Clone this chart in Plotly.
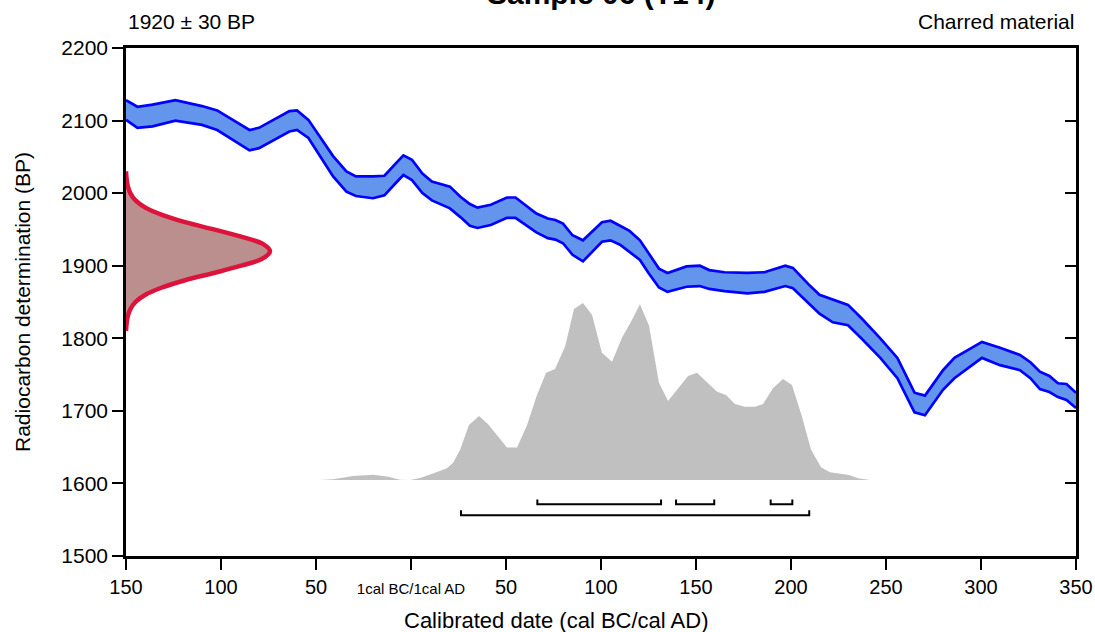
import plotly.graph_objects as go

# ---------------- data ----------------
# calibration curve (year: negative = BC, 0 = 1 BC/1 AD boundary), upper/lower BP edges
cal_year = [-150, -144, -136, -124, -110, -102, -85, -80, -64, -60, -54, -41, -34, -29, -20, -14,
            -8, -4, 0.5, 6, 11, 20.5, 26, 31, 35, 42, 50.5, 55, 66, 72, 76, 80, 85, 90.5,
            100.5, 105, 110, 115, 120.5, 125, 130.5, 135, 145, 152, 157, 165, 177, 186, 197, 201,
            209, 215, 222, 230, 237, 247, 256, 265, 270.5, 280, 286, 300.5, 310, 320.5, 326,
            331, 336, 340.5, 345, 350]
cal_upper = [2128, 2119, 2122, 2128, 2120, 2114, 2087, 2090, 2113, 2114, 2101, 2051, 2030, 2023, 2023, 2024,
             2041, 2052, 2046, 2027, 2016, 2009, 1995, 1985, 1980, 1984, 1994, 1994, 1972, 1965, 1963, 1958, 1942, 1935,
             1960, 1962, 1955, 1948, 1935, 1917, 1896, 1890, 1899, 1900, 1894, 1891, 1890, 1891, 1900, 1897,
             1875, 1860, 1853, 1846, 1828, 1800, 1773, 1725, 1721, 1756, 1773, 1795, 1787, 1777, 1767,
             1754, 1748, 1738, 1737, 1725]
cal_lower = [2101, 2090, 2092, 2100, 2094, 2087, 2059, 2062, 2085, 2087, 2076, 2023, 2002, 1996, 1993, 1997,
             2014, 2025, 2018, 2000, 1990, 1979, 1967, 1955, 1952, 1956, 1966, 1966, 1946, 1938, 1936, 1931, 1915, 1906,
             1933, 1935, 1929, 1919, 1908, 1890, 1870, 1864, 1871, 1872, 1868, 1865, 1862, 1864, 1872, 1869,
             1849, 1834, 1822, 1818, 1800, 1773, 1745, 1698, 1694, 1729, 1745, 1773, 1763, 1756, 1745,
             1730, 1726, 1719, 1715, 1704]

# radiocarbon determination 1920 +/- 30 BP (relative probability)
c14_bp = [2030, 2020, 2010, 2000, 1990, 1980, 1970, 1960, 1950, 1940, 1930, 1920,
          1910, 1900, 1890, 1880, 1870, 1860, 1850, 1840, 1830, 1820, 1810]
c14_prob = [0.0, 0.004, 0.012, 0.03, 0.066, 0.135, 0.25, 0.41, 0.61, 0.80, 0.95, 1.0,
            0.95, 0.80, 0.61, 0.41, 0.25, 0.135, 0.066, 0.03, 0.012, 0.004, 0.0]

# calibrated date distribution (relative probability)
post_year = [-48, -41, -30.5, -20, -12.6, -5.8, -0.5, 4.7, 11.6, 18.9, 22.1, 25.8, 30.5, 35.8, 40.5,
             50.5, 55.8, 61.1, 66.3, 71.1, 75.8, 81.1, 85.8, 90.5, 95.3, 100.5, 105.8, 111.1, 115.8,
             120.5, 125.3, 130.5, 135.3, 140.5, 145.8, 150.5, 155.8, 161.1, 165.8, 170.5, 175.8,
             181.1, 185.3, 190.5, 195.8, 200.5, 205.8, 210.5, 215.8, 220.5, 230.5, 235.3, 241.6, 250.5]
post_prob = [0.0, 0.004, 0.022, 0.03, 0.019, 0.002, 0.0, 0.011, 0.037, 0.066, 0.096, 0.169, 0.309, 0.36, 0.315,
             0.182, 0.182, 0.309, 0.478, 0.603, 0.624, 0.75, 0.96, 0.994, 0.927, 0.715, 0.664, 0.801, 0.889,
             0.987, 0.867, 0.547, 0.444, 0.515, 0.584, 0.603, 0.547, 0.496, 0.478, 0.427, 0.412,
             0.412, 0.427, 0.515, 0.567, 0.534, 0.356, 0.172, 0.071, 0.043, 0.028, 0.010, 0.0, 0.0]

# highest posterior density ranges
hpd68_start = [66.5, 139.5, 189.3]
hpd68_end = [131.6, 159.6, 200.7]
hpd95_start = [26.3]
hpd95_end = [209.6]

x_tickvals = [-150, -100, -50, 0, 50, 100, 150, 200, 250, 300, 350]
x_ticktext = ['150', '100', '50', '<span style="font-size:15px">1cal BC/1cal AD</span>',
              '50', '100', '150', '200', '250', '300', '350']
y_tickvals = [1500, 1600, 1700, 1800, 1900, 2000, 2100, 2200]

title_text = 'Sample 06 (T14)'
det_text = '1920 ± 30 BP'
material_text = 'Charred material'

# ---------------- style ----------------
FONT = 'Arial, Liberation Sans, sans-serif'
row68 = (1571.2, 1578.0)
row95 = (1556.1, 1563.2)

fig = go.Figure()

# calibration band
fig.add_trace(go.Scatter(x=cal_year, y=cal_lower, mode='lines',
                         line=dict(color='#0000FF', width=2.7), showlegend=False, hoverinfo='skip'))
fig.add_trace(go.Scatter(x=cal_year, y=cal_upper, mode='lines', fill='tonexty',
                         fillcolor='#6495ED', line=dict(color='#0000FF', width=2.7),
                         showlegend=False, hoverinfo='skip'))

# radiocarbon determination curve
fig.add_trace(go.Scatter(x=c14_prob, y=c14_bp, xaxis='x2', yaxis='y', mode='lines',
                         fill='tozerox', fillcolor='#BC8F8F',
                         line=dict(color='#DC143C', width=4.5, shape='spline'),
                         showlegend=False, hoverinfo='skip'))

# calibrated distribution
fig.add_trace(go.Scatter(x=post_year, y=post_prob, yaxis='y2', mode='lines',
                         fill='tozeroy', fillcolor='#C0C0C0',
                         line=dict(color='rgba(0,0,0,0)', width=0),
                         showlegend=False, hoverinfo='skip'))

# range brackets
def add_brackets(starts, ends, row):
    for s, e in zip(starts, ends):
        fig.add_trace(go.Scatter(x=[s, s, e, e], y=[row[1], row[0], row[0], row[1]],
                                 mode='lines', line=dict(color='black', width=2),
                                 showlegend=False, hoverinfo='skip'))

add_brackets(hpd68_start, hpd68_end, row68)
add_brackets(hpd95_start, hpd95_end, row95)

# helper trace so the right-hand axis is drawn
fig.add_trace(go.Scatter(x=[None], y=[None], yaxis='y3', showlegend=False, hoverinfo='skip'))

fig.update_layout(
    width=1095, height=632,
    margin=dict(l=126, r=19, t=48, b=76),
    plot_bgcolor='white', paper_bgcolor='white',
    font=dict(family=FONT, size=20, color='black'),
    xaxis=dict(range=[-150, 350], tickvals=x_tickvals, ticktext=x_ticktext, automargin=False,
               showgrid=False, zeroline=False, showline=True, linecolor='black', linewidth=2.5,
               mirror=True, ticks='outside', ticklen=11, tickwidth=2, tickcolor='black',
               tickfont=dict(size=20)),
    xaxis2=dict(range=[0, 950 / 144], overlaying='x', visible=False, automargin=False),
    yaxis=dict(range=[1500, 2200], tickvals=y_tickvals, automargin=False,
               showgrid=False, zeroline=False, showline=True, linecolor='black', linewidth=2.5,
               ticks='outside', ticklen=11, tickwidth=2, tickcolor='black',
               tickfont=dict(size=21)),
    yaxis2=dict(range=[-76 / 178, 432 / 178], overlaying='y', visible=False, automargin=False),
    yaxis3=dict(range=[1500, 2200], tickvals=y_tickvals, overlaying='y', side='right',
                automargin=False,
                showgrid=False, zeroline=False, showline=True, linecolor='black', linewidth=2.5,
                ticks='inside', ticklen=11, tickwidth=2, tickcolor='black', showticklabels=False),
)

fig.add_annotation(text='<b>' + title_text + '</b>', xref='paper', yref='paper',
                   x=0.5, y=1.071, xanchor='center', yanchor='bottom', showarrow=False,
                   font=dict(size=30))
fig.add_annotation(text=det_text, xref='paper', yref='paper', x=0.0, y=1.0512,
                   xanchor='left', yanchor='middle', showarrow=False, font=dict(size=21))
fig.add_annotation(text=material_text, xref='paper', yref='paper', x=1.0, y=1.0512,
                   xanchor='right', yanchor='middle', showarrow=False, font=dict(size=21))
fig.add_annotation(text='Radiocarbon determination (BP)', xref='paper', yref='paper',
                   x=-0.1095, y=0.5, xanchor='center', yanchor='middle', textangle=-90,
                   showarrow=False, font=dict(size=21))
fig.add_annotation(text='Calibrated date (cal BC/cal AD)', xref='paper', yref='paper',
                   x=0.4526, y=-0.126, xanchor='center', yanchor='middle',
                   showarrow=False, font=dict(size=22))

fig.write_html('out.html', config={'displayModeBar': False},
               post_script="document.body.style.margin='0px';")
